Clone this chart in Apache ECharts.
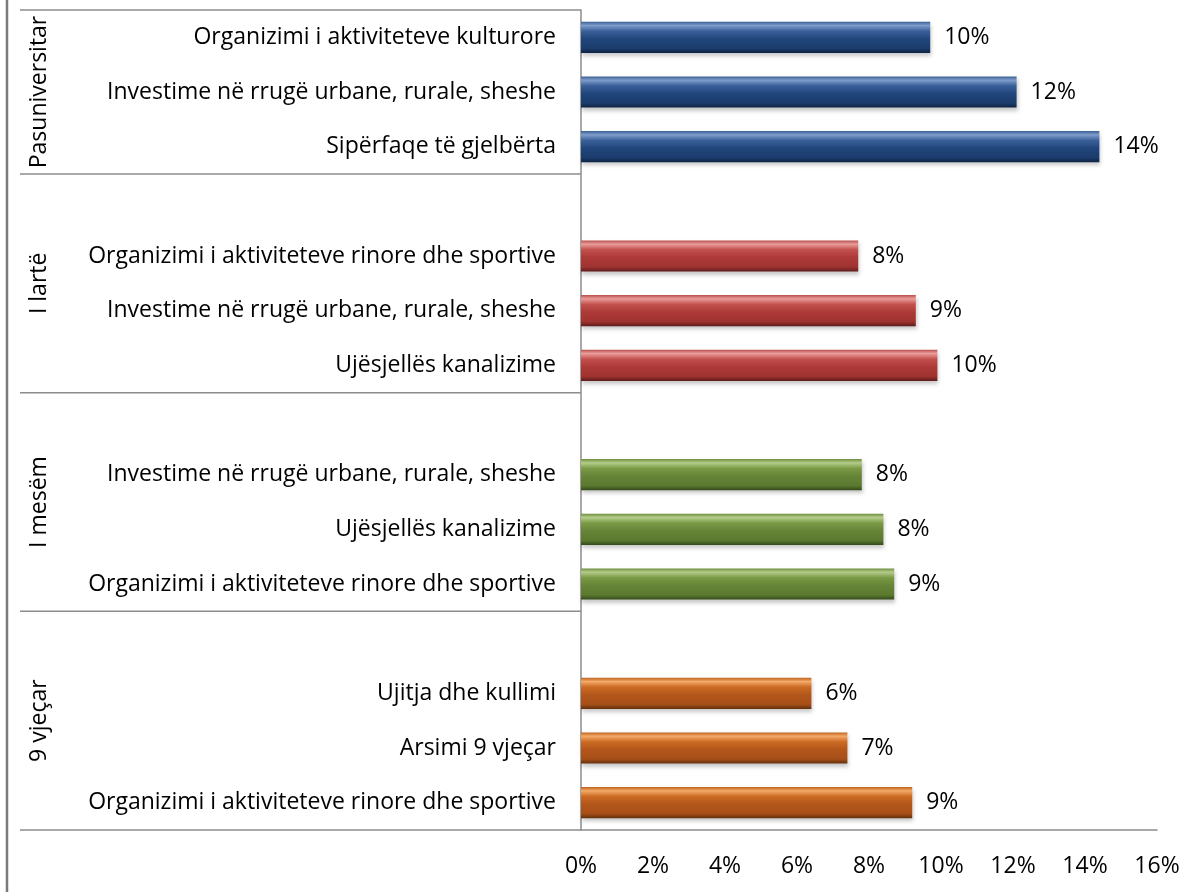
<!DOCTYPE html>
<html>
<head>
<meta charset="utf-8">
<script src="https://cdn.jsdelivr.net/npm/echarts@6/dist/echarts.min.js"></script>
<style>
html,body{margin:0;padding:0;background:#fff;}
#c{width:1200px;height:892px;}
</style>
</head>
<body>
<div id="c"></div>
<script>
// ---- data ----
const groupNames = ['Pasuniversitar', 'I lartë', 'I mesëm', '9 vjeçar'];
const catsPasuniversitar = ['Organizimi i aktiviteteve kulturore', 'Investime në rrugë urbane, rurale, sheshe', 'Sipërfaqe të gjelbërta'];
const valsPasuniversitar = [9.7, 12.1, 14.4];
const catsLarte = ['Organizimi i aktiviteteve rinore dhe sportive', 'Investime në rrugë urbane, rurale, sheshe', 'Ujësjellës kanalizime'];
const valsLarte = [7.7, 9.3, 9.9];
const catsMesem = ['Investime në rrugë urbane, rurale, sheshe', 'Ujësjellës kanalizime', 'Organizimi i aktiviteteve rinore dhe sportive'];
const valsMesem = [7.8, 8.4, 8.7];
const cats9 = ['Ujitja dhe kullimi', 'Arsimi 9 vjeçar', 'Organizimi i aktiviteteve rinore dhe sportive'];
const vals9 = [6.4, 7.4, 9.2];
const xTicks = [0, 2, 4, 6, 8, 10, 12, 14, 16];

// ---- styles ----
function grad(stops) {
  return new echarts.graphic.LinearGradient(0, 0, 0, 1, stops.map((c, i) => ({offset: [0, 0.12, 0.3, 0.55, 0.85, 1][i], color: c})));
}
const groupColors = [
  grad(['#3b5f94', '#7f9dcb', '#3a609a', '#21467c', '#1b3c6c', '#0f2444']),
  grad(['#b8514f', '#ea9c9a', '#c2504d', '#ad3a38', '#a0332f', '#5e1c1c']),
  grad(['#6f8f3e', '#b4cc8a', '#7a9a46', '#668436', '#5c7a30', '#354a1a']),
  grad(['#c0621f', '#f4aa68', '#cc6b24', '#b3561b', '#a74f18', '#64300c'])
];

const groupCats = [catsPasuniversitar, catsLarte, catsMesem, cats9];
const groupVals = [valsPasuniversitar, valsLarte, valsMesem, vals9];

// build rows: group rows, with one blank row before every group except the first
const categories = [];
const seriesData = [];
const groupRanges = [];
groupCats.forEach((cats, g) => {
  const start = categories.length;
  if (g > 0) { categories.push(' '.repeat(g)); seriesData.push(null); }
  cats.forEach((c, i) => {
    categories.push(c);
    seriesData.push({value: groupVals[g][i], itemStyle: {color: groupColors[g]}});
  });
  groupRanges.push([start, categories.length - 1]);
});

const FONT = '"Open Sans", "Noto Sans", sans-serif';
const FS = 23;
const LINE = '#8c8c8c';

const chart = echarts.init(document.getElementById('c'), null, {renderer: 'canvas'});
chart.setOption({
  backgroundColor: '#ffffff',
  animation: false,
  grid: {left: 581, right: 43, top: 10, bottom: 62, containLabel: false},
  xAxis: {
    type: 'value', min: xTicks[0], max: xTicks[xTicks.length - 1], interval: 2,
    axisLine: {show: true, lineStyle: {color: LINE, width: 1.5}},
    axisTick: {show: false},
    splitLine: {show: false},
    axisLabel: {formatter: '{value}%', fontSize: FS, color: '#000', fontFamily: FONT, margin: 25}
  },
  yAxis: {
    type: 'category', inverse: true, data: categories,
    axisLine: {show: true, lineStyle: {color: LINE, width: 1.5}},
    axisTick: {show: false},
    axisLabel: {fontSize: FS, color: '#000', fontFamily: FONT, margin: 25}
  },
  series: [{
    type: 'bar',
    data: seriesData,
    barCategoryGap: '43%',
    itemStyle: {shadowColor: 'rgba(0,0,0,0.22)', shadowBlur: 4, shadowOffsetY: 3, shadowOffsetX: 1},
    label: {
      show: true, position: 'right', distance: 14,
      fontSize: FS, color: '#000', fontFamily: FONT,
      formatter: p => Math.round(p.value) + '%'
    }
  }]
});

// separators and group labels from the category axis scale
const c0 = chart.convertToPixel({yAxisIndex: 0}, 0);
const c1 = chart.convertToPixel({yAxisIndex: 0}, 1);
const rowH = c1 - c0;
const axisX = chart.convertToPixel({xAxisIndex: 0}, 0);
const elements = [
  {type: 'line', shape: {x1: 7, y1: 0, x2: 7, y2: 892}, style: {stroke: '#7a7a7a', lineWidth: 2.5}, silent: true}
];
groupRanges.forEach((r, g) => {
  const top = chart.convertToPixel({yAxisIndex: 0}, r[0]) - rowH / 2;
  const bot = chart.convertToPixel({yAxisIndex: 0}, r[1]) + rowH / 2;
  if (g === 0) elements.push({type: 'line', shape: {x1: 20, y1: top, x2: axisX, y2: top}, style: {stroke: LINE, lineWidth: 1.5}, silent: true});
  elements.push({type: 'line', shape: {x1: 20, y1: bot, x2: axisX, y2: bot}, style: {stroke: LINE, lineWidth: 1.5}, silent: true});
  elements.push({
    type: 'text', x: 39, y: (top + bot) / 2, rotation: Math.PI / 2,
    style: {text: groupNames[g], fontSize: FS, fontFamily: FONT, fill: '#000', align: 'center', verticalAlign: 'middle'},
    silent: true
  });
});
chart.setOption({graphic: {elements: elements}});
</script>
</body>
</html>
